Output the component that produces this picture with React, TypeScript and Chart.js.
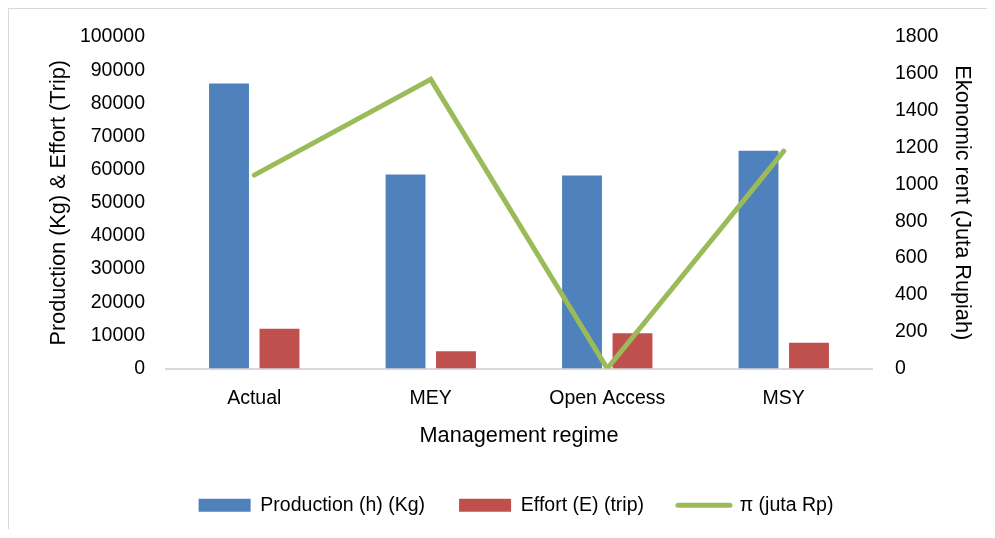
import React, { useEffect, useRef } from "react";
import { Chart, registerables } from "chart.js";

Chart.register(...registerables);

const categories = ["Actual", "MEY", "Open Access", "MSY"];
const production = [86000, 58500, 58200, 65700];
const effort = [12000, 5200, 10600, 7800];
const rent = [1050, 1570, 0, 1180];

const FONT = "'Liberation Sans', Arial, sans-serif";

export default function App() {
  const ref = useRef<HTMLCanvasElement | null>(null);
  useEffect(() => {
    if (!ref.current) return;
    const chart = new Chart(ref.current, {
      type: "bar",
      data: {
        labels: categories,
        datasets: [
          {
            type: "bar",
            label: "Production (h) (Kg)",
            data: production,
            backgroundColor: "#4F81BD",
            yAxisID: "y",
            order: 1,
            categoryPercentage: 0.572,
            barPercentage: 0.79,
          },
          {
            type: "bar",
            label: "Effort (E) (trip)",
            data: effort,
            backgroundColor: "#C0504D",
            yAxisID: "y",
            order: 1,
            categoryPercentage: 0.572,
            barPercentage: 0.79,
          },
          {
            type: "line",
            label: "π (juta Rp)",
            data: rent,
            borderColor: "#9BBB59",
            backgroundColor: "#9BBB59",
            borderWidth: 5,
            borderCapStyle: "round",
            pointRadius: 0,
            tension: 0,
            yAxisID: "y1",
            order: 0,
          },
        ],
      },
      options: {
        responsive: false,
        animation: false,
        layout: { padding: { left: 44, right: 8, top: 7, bottom: 4 } },
        plugins: {
          tooltip: { enabled: false },
          legend: {
            position: "bottom",
            labels: {
              usePointStyle: true,
              pointStyleWidth: 52,
              boxWidth: 52,
              boxHeight: 13,
              padding: 34,
              color: "#000",
              font: { family: FONT, size: 19.5 },
              sort: (a: any, b: any) => a.datasetIndex - b.datasetIndex,
              generateLabels: (c: any) =>
                Chart.defaults.plugins.legend.labels
                  .generateLabels(c)
                  .map((l: any) =>
                    l.datasetIndex === 2
                      ? { ...l, pointStyle: "line", lineWidth: 5, lineCap: "round", strokeStyle: "#9BBB59" }
                      : { ...l, pointStyle: "rect", lineWidth: 0 }
                  ),
            },
          },
        },
        scales: {
          x: {
            grid: { display: false, drawTicks: false },
            border: { display: true, color: "#d9d9d9", width: 2 },
            ticks: { color: "#000", padding: 18, maxRotation: 0, font: { family: FONT, size: 19.5 } },
            title: {
              display: true,
              text: "Management regime",
              color: "#000",
              font: { family: FONT, size: 21.7 },
              padding: { top: 4, bottom: 12 },
            },
            afterFit: (s: any) => {
              s.height = 93;
            },
          },
          y: {
            position: "left",
            min: 0,
            max: 100000,
            grid: { display: false, drawTicks: false },
            border: { display: false },
            ticks: {
              stepSize: 10000,
              autoSkip: false,
              color: "#000",
              padding: 21,
              font: { family: FONT, size: 19.5 },
              callback: (v: any) => String(v),
            },
            title: {
              display: true,
              text: "Production (Kg) & Effort (Trip)",
              color: "#000",
              font: { family: FONT, size: 21.7 },
              padding: { top: -7, bottom: 4 },
            },
            afterFit: (s: any) => {
              s.width = 113;
              s.paddingTop = 28;
            },
          },
          y1: {
            position: "right",
            min: 0,
            max: 1800,
            grid: { display: false, drawTicks: false },
            border: { display: false },
            ticks: {
              stepSize: 200,
              autoSkip: false,
              color: "#000",
              padding: 23,
              font: { family: FONT, size: 19.5 },
              callback: (v: any) => String(v),
            },
            title: {
              display: true,
              text: "Ekonomic rent (Juta Rupiah)",
              color: "#000",
              font: { family: FONT, size: 21.7 },
              padding: { top: 4, bottom: 4 },
            },
            afterFit: (s: any) => {
              s.width = 107;
              s.paddingTop = 28;
            },
          },
        },
      },
    } as any);
    return () => chart.destroy();
  }, []);
  return (
    <div
      style={{
        width: 978,
        height: 520,
        borderTop: "1px solid #d9d9d9",
        borderLeft: "1px solid #d9d9d9",
      }}
    >
      <canvas ref={ref} width={978} height={520} style={{ display: "block" }} />
    </div>
  );
}
